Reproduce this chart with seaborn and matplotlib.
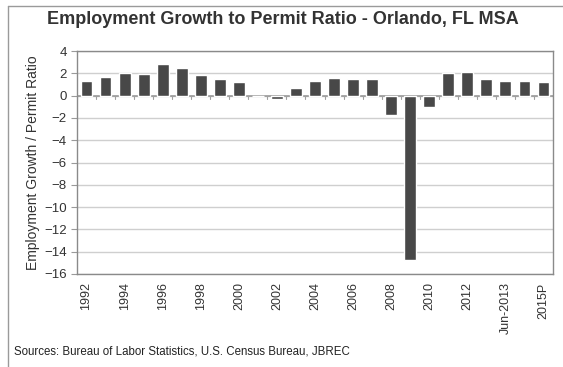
import numpy as np
import pandas as pd
import matplotlib
matplotlib.use("Agg")
import matplotlib.pyplot as plt
import seaborn as sns
from matplotlib.lines import Line2D

# chart data
years = [str(y) for y in range(1992, 2014)] + ["Jun-2013", "2014", "2015P"]
ratio = [1.3, 1.7, 2.05, 1.95, 2.8, 2.5, 1.85, 1.5, 1.2, 0.0, -0.3, 0.7,
         1.3, 1.55, 1.45, 1.45, -1.75, -14.75, -1.0, 2.05, 2.15, 1.45,
         1.27, 1.27, 1.25]
shown_labels = ["1992", "1994", "1996", "1998", "2000", "2002", "2004", "2006",
                "2008", "2010", "2012", "Jun-2013", "2015P"]

df = pd.DataFrame({"year": years, "ratio": ratio})

sns.set_style("white")
plt.rcParams["font.family"] = ["Liberation Sans", "DejaVu Sans"]

fig = plt.figure(figsize=(5.63, 3.67), dpi=100)
ax = fig.add_axes([77 / 563, 1 - 274 / 367, 476 / 563, 223 / 367])

sns.barplot(data=df, x="year", y="ratio", color="#484848", saturation=1,
            width=0.62, ax=ax, zorder=3)

ax.set_ylim(-16, 4)
ax.set_yticks(np.arange(-16, 5, 2))
ax.yaxis.grid(True, color="#cfcfcf", linewidth=1, zorder=0)
ax.axhline(0, color="#9a9a9a", linewidth=1.2, zorder=2)

# small category ticks on the zero line
for b in np.arange(len(years) + 1) - 0.5:
    ax.plot([b, b], [0, -0.3], color="#a0a0a0", linewidth=0.8, zorder=2)

ax.set_xlim(-0.5, len(years) - 0.5)
ax.set_xticks([years.index(l) for l in shown_labels])
ax.set_xticklabels(shown_labels, rotation=90, fontsize=9, color="#333333")
ax.tick_params(axis="y", labelsize=9.5, colors="#333333", length=4,
               color="#9a9a9a", left=True)
ax.tick_params(axis="x", length=0, pad=6)
ax.set_xlabel("")
ax.set_ylabel("Employment Growth / Permit Ratio", fontsize=10,
              color="#333333", labelpad=3)

for s in ax.spines.values():
    s.set_color("#8a8a8a")
    s.set_linewidth(1)

fig.text(0.502, 1 - 20 / 367, "Employment Growth to Permit Ratio - Orlando, FL MSA",
         ha="center", va="center", fontsize=13, fontweight="bold", color="#333333")
fig.text(14 / 563, 1 - 352 / 367,
         "Sources: Bureau of Labor Statistics, U.S. Census Bureau, JBREC",
         ha="left", va="center", fontsize=8.3, color="#222222")

# outer frame (top and left)
fig.add_artist(Line2D([8 / 563, 8 / 563], [0, 1 - 6 / 367],
                      transform=fig.transFigure, color="#9a9a9a", linewidth=1))
fig.add_artist(Line2D([8 / 563, 1], [1 - 6 / 367, 1 - 6 / 367],
                      transform=fig.transFigure, color="#9a9a9a", linewidth=1))

fig.savefig("out.png", dpi=100)
